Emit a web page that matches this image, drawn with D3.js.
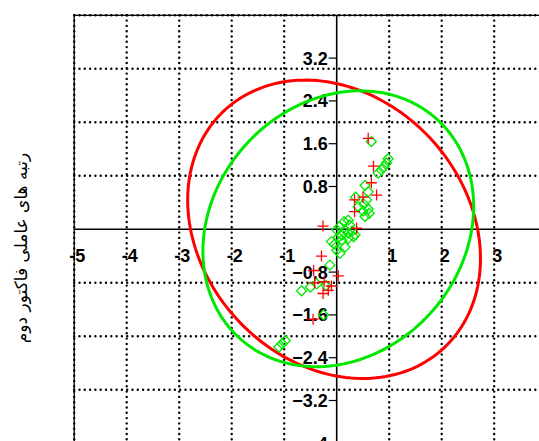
<!DOCTYPE html>
<html>
<head>
<meta charset="utf-8">
<script src="https://cdn.jsdelivr.net/npm/d3@7"></script>
<style>
  body { margin: 0; background: #fff; }
  .tick-label { font-family: "Liberation Sans", Arial, sans-serif; font-weight: bold; font-size: 18px; fill: #000; }
  .y-title { font-family: "DejaVu Sans", sans-serif; font-size: 17px; fill: #000; }
</style>
</head>
<body>
<div id="chart"></div>
<script>
// tick labels
var xTicks = [-5, -4, -3, -2, -1, 1, 2, 3];
var yTicks = [3.2, 2.4, 1.6, 0.8, -0.8, -1.6, -2.4, -3.2, -4];
var gridX = [-5, -4, -3, -2, -1, 1, 2, 3, 4];
var gridY = [-4, -3, -2, -1, 1, 2, 3, 4];

// green diamonds
var greenX = [0.66, 0.79, 0.85, 0.90, 0.95, 0.98, 0.54, 0.60, 0.36, 0.57, 0.52, 0.41, 0.60, 0.50, 0.62, 0.54,
  0.22, 0.14, 0.25, 0.06, 0.16, 0.30, 0.22, 0.35, 0.00, 0.10, 0.03,
  -0.10, 0.10, 0.22, 0.32, 0.16, 0.00, 0.06, -0.04, -0.13,
  -0.38, -0.20, -0.67, -0.50, -0.25, -0.98, -1.04, -1.10];
var greenY = [1.64, 1.05, 1.11, 1.17, 1.24, 1.32, 0.82, 0.70, 0.60, 0.55, 0.47, 0.42, 0.38, 0.34, 0.30, 0.24,
  0.17, 0.14, 0.08, 0.05, -0.01, -0.03, -0.07, -0.10, -0.01, -0.11, -0.15,
  -0.23, -0.20, -0.17, -0.14, -0.33, -0.39, -0.45, -0.28, -0.67,
  -1.02, -1.05, -1.15, -1.08, -1.60, -2.08, -2.14, -2.20];

// red pluses
var redX = [0.60, 0.70, 0.66, 0.76, 0.50, 0.34, 0.34, 0.38, -0.26,
  -0.29, -0.44, 0.03, -0.24, -0.42, -0.10, -0.16, -0.26, -0.45];
var redY = [1.70, 1.18, 0.87, 0.64, 0.60, 0.55, 0.33, 0.02, 0.06,
  -0.50, -0.77, -0.87, -0.98, -1.00, -1.06, -1.14, -1.20, -1.68];

// ellipses (center, semi axes, angle of major axis in degrees)
var ellColors = ["#ff0000", "#00e800"];
var ellCx = [-0.05, 0.03];
var ellCy = [0.0, 0.01];
var ellA = [3.05, 2.78];
var ellB = [2.5, 2.36];
var ellAngle = [135, 45];

var yTitle = "رتبه های عاملی فاکتور دوم";

var svgWidth = 539;
var svgHeight = 441;

var svg = d3.select("#chart")
  .append("svg")
  .attr("width", svgWidth)
  .attr("height", svgHeight)
  .style("display", "block")
  .style("overflow", "hidden");

var xScale = d3.scaleLinear().domain([-5, 4]).range([74.2, 546.7]);
var yScale = d3.scaleLinear().domain([-4, 4]).range([443.3, 15.3]);

// dotted grid
svg.append("g").selectAll("line")
  .data(gridX)
  .enter()
  .append("line")
  .attr("x1", d => xScale(d))
  .attr("x2", d => xScale(d))
  .attr("y1", yScale(4))
  .attr("y2", yScale(-4))
  .attr("stroke", "#000")
  .attr("stroke-width", 2.4)
  .attr("stroke-linecap", "round")
  .attr("stroke-dasharray", "0 5.3");

svg.append("g").selectAll("line")
  .data(gridY)
  .enter()
  .append("line")
  .attr("y1", d => yScale(d))
  .attr("y2", d => yScale(d))
  .attr("x1", xScale(-5))
  .attr("x2", xScale(4))
  .attr("stroke", "#000")
  .attr("stroke-width", 2.4)
  .attr("stroke-linecap", "round")
  .attr("stroke-dasharray", "0 5.3");

// frame
svg.append("rect")
  .attr("x", xScale(-5))
  .attr("y", yScale(4))
  .attr("width", xScale(4) - xScale(-5))
  .attr("height", yScale(-4) - yScale(4))
  .attr("fill", "none")
  .attr("stroke", "#000")
  .attr("stroke-width", 1.3);

// axes through the origin
svg.append("line")
  .attr("x1", xScale(-5)).attr("x2", xScale(4))
  .attr("y1", yScale(0)).attr("y2", yScale(0))
  .attr("stroke", "#000").attr("stroke-width", 1.6);
svg.append("line")
  .attr("x1", xScale(0)).attr("x2", xScale(0))
  .attr("y1", yScale(4)).attr("y2", yScale(-4))
  .attr("stroke", "#000").attr("stroke-width", 1.6);

// y ticks + labels
svg.append("g").selectAll("line")
  .data(yTicks)
  .enter()
  .append("line")
  .attr("x1", xScale(0) - 8)
  .attr("x2", xScale(0))
  .attr("y1", d => yScale(d))
  .attr("y2", d => yScale(d))
  .attr("stroke", "#000")
  .attr("stroke-width", 1.2);

svg.append("g").selectAll("text")
  .data(yTicks)
  .enter()
  .append("text")
  .attr("class", "tick-label")
  .attr("x", xScale(0) - 9)
  .attr("y", d => yScale(d))
  .attr("dy", "0.36em")
  .attr("text-anchor", "end")
  .text(d => d3.format(".1f")(d).replace(".0", ""));

// x labels
svg.append("g").selectAll("text")
  .data(xTicks)
  .enter()
  .append("text")
  .attr("class", "tick-label")
  .attr("x", d => xScale(d) + 3)
  .attr("y", yScale(0) + 33)
  .attr("text-anchor", "middle")
  .text(d => d);

// ellipses
var ellIdx = d3.range(ellColors.length);
var ellLine = d3.line()
  .x(d => xScale(d[0]))
  .y(d => yScale(d[1]));

svg.append("g").selectAll("path")
  .data(ellIdx)
  .enter()
  .append("path")
  .attr("fill", "none")
  .attr("stroke", i => ellColors[i])
  .attr("stroke-width", 3)
  .attr("d", function(i) {
    var phi = ellAngle[i] * Math.PI / 180;
    var pts = d3.range(0, 361, 2).map(function(deg) {
      var t = deg * Math.PI / 180;
      var u = ellA[i] * Math.cos(t);
      var v = ellB[i] * Math.sin(t);
      return [ellCx[i] + u * Math.cos(phi) - v * Math.sin(phi),
              ellCy[i] + u * Math.sin(phi) + v * Math.cos(phi)];
    });
    return ellLine(pts);
  });

// green diamonds
var diamond = "M0,-5L5,0L0,5L-5,0Z";
svg.append("g").selectAll("path")
  .data(greenX)
  .enter()
  .append("path")
  .attr("d", diamond)
  .attr("transform", (d, i) => `translate(${xScale(d)}, ${yScale(greenY[i])})`)
  .attr("fill", "none")
  .attr("stroke", "#00e800")
  .attr("stroke-width", 1.3);

// red pluses
var plus = "M-5.5,0H5.5M0,-5.5V5.5";
svg.append("g").selectAll("path")
  .data(redX)
  .enter()
  .append("path")
  .attr("d", plus)
  .attr("transform", (d, i) => `translate(${xScale(d)}, ${yScale(redY[i])})`)
  .attr("fill", "none")
  .attr("stroke", "#ff0000")
  .attr("stroke-width", 1.3);

// y axis title
svg.append("text")
  .attr("class", "y-title")
  .attr("transform", "translate(21, 248) rotate(-90)")
  .attr("text-anchor", "middle")
  .attr("dy", "0.35em")
  .attr("direction", "rtl")
  .text(yTitle);
</script>
</body>
</html>
